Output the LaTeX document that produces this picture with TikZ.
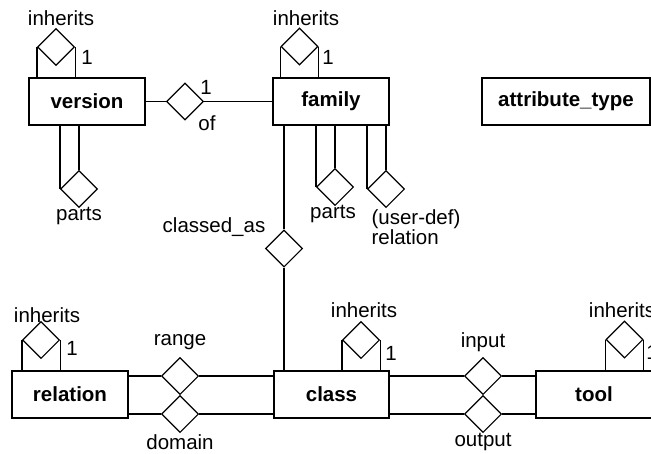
\documentclass[tikz,border=0pt]{standalone}
\usepackage{fontspec}
\setmainfont{Liberation Sans}
\usetikzlibrary{shapes.geometric}
\begin{document}
\begin{tikzpicture}[x=1pt,y=-1pt,
  line width=1.1pt,
  font=\fontsize{20.5}{15}\selectfont,
  entity/.style={draw, rectangle, minimum width=116pt, minimum height=47pt,
    inner sep=0pt, font=\fontsize{20.5}{15}\selectfont\bfseries},
  rel/.style={draw, diamond, aspect=1, minimum width=37pt, minimum height=37pt,
    inner sep=0pt},
  lbl/.style={inner sep=0pt},
  pair/.style={}
]
\clip (0,0) rectangle (651,453);

% entities
\node[entity] (version) at (87,101.5) {version};
\node[entity] (family) at (331,101.5) {family};
\node[entity, minimum width=168pt] (attr) at (566,101.5) {attribute\_type};
\node[entity] (relation) at (70,394.5) {relation};
\node[entity, minimum width=115pt] (class) at (331.5,394.5) {class};
\node[entity] (tool) at (594,394.5) {tool};

% relationships
\node[rel] (vinh) at (56,47) {};
\node[rel] (vparts) at (79,189) {};
\node[rel] (of) at (185,101.5) {};
\node[rel] (finh) at (299.5,46.5) {};
\node[rel] (fparts) at (335,187) {};
\node[rel] (fuser) at (386,189) {};
\node[rel] (classedas) at (284,248.5) {};
\node[rel] (rinh) at (41,340) {};
\node[rel] (cinh) at (361,340) {};
\node[rel] (tinh) at (624.5,339.5) {};
\node[rel] (range) at (180,376) {};
\node[rel] (domain) at (180,414) {};
\node[rel] (input) at (483,376) {};
\node[rel] (output) at (483,414) {};

% self relationships (inherits) sitting on top of each entity
\foreach \d/\e in {vinh/version, finh/family, rinh/relation, cinh/class, tinh/tool}{
  \draw (\d.west) -- (\d.west |- \e.north);
  \draw (\d.east) -- (\d.east |- \e.north);
}
% self relationships hanging below an entity
\foreach \d/\e in {vparts/version, fparts/family, fuser/family}{
  \draw (\d.west) -- (\d.west |- \e.south);
  \draw (\d.north) -- (\d.north |- \e.south);
}

% binary relationships
\draw (version.east) -- (of.west);
\draw (of.east) -- (family.west);
\draw (classedas.north) -- (classedas.north |- family.south);
\draw (classedas.south) -- (classedas.south |- class.north);
\foreach \d in {range, domain}{
  \draw (\d.west) -- (\d.west -| relation.east);
  \draw (\d.east) -- (\d.east -| class.west);
}
\foreach \d in {input, output}{
  \draw (\d.west) -- (\d.west -| class.east);
  \draw (\d.east) -- (\d.east -| tool.west);
}

% labels
\node[lbl] (l-vinh) at (61,18) {inherits};
\node[lbl] (l-vinh1) at (87,57) {1};
\node[lbl] (l-finh) at (306,18) {inherits};
\node[lbl] (l-finh1) at (328,57) {1};
\node[lbl] (l-of1) at (206,87) {1};
\node[lbl] (l-of) at (207,123) {of};
\node[lbl] (l-vparts) at (79,216) {parts};
\node[lbl] (l-fparts) at (333,214) {parts};
\node[lbl, align=left, anchor=west] (l-fuser) at (371,227.5) {(user-def)\\relation};
\node[lbl] (l-classed) at (214,227) {classed\_as};
\node[lbl] (l-rinh) at (47,315) {inherits};
\node[lbl] (l-rinh1) at (72,348) {1};
\node[lbl] (l-cinh) at (364,310) {inherits};
\node[lbl] (l-cinh1) at (391,353) {1};
\node[lbl] (l-tinh) at (622,310) {inherits};
\node[lbl] (l-tinh1) at (652,352) {1};
\node[lbl] (l-range) at (180,342) {range};
\node[lbl] (l-domain) at (180,442) {domain};
\node[lbl] (l-input) at (483,342) {input};
\node[lbl] (l-output) at (483,442) {output};
\end{tikzpicture}
\end{document}
